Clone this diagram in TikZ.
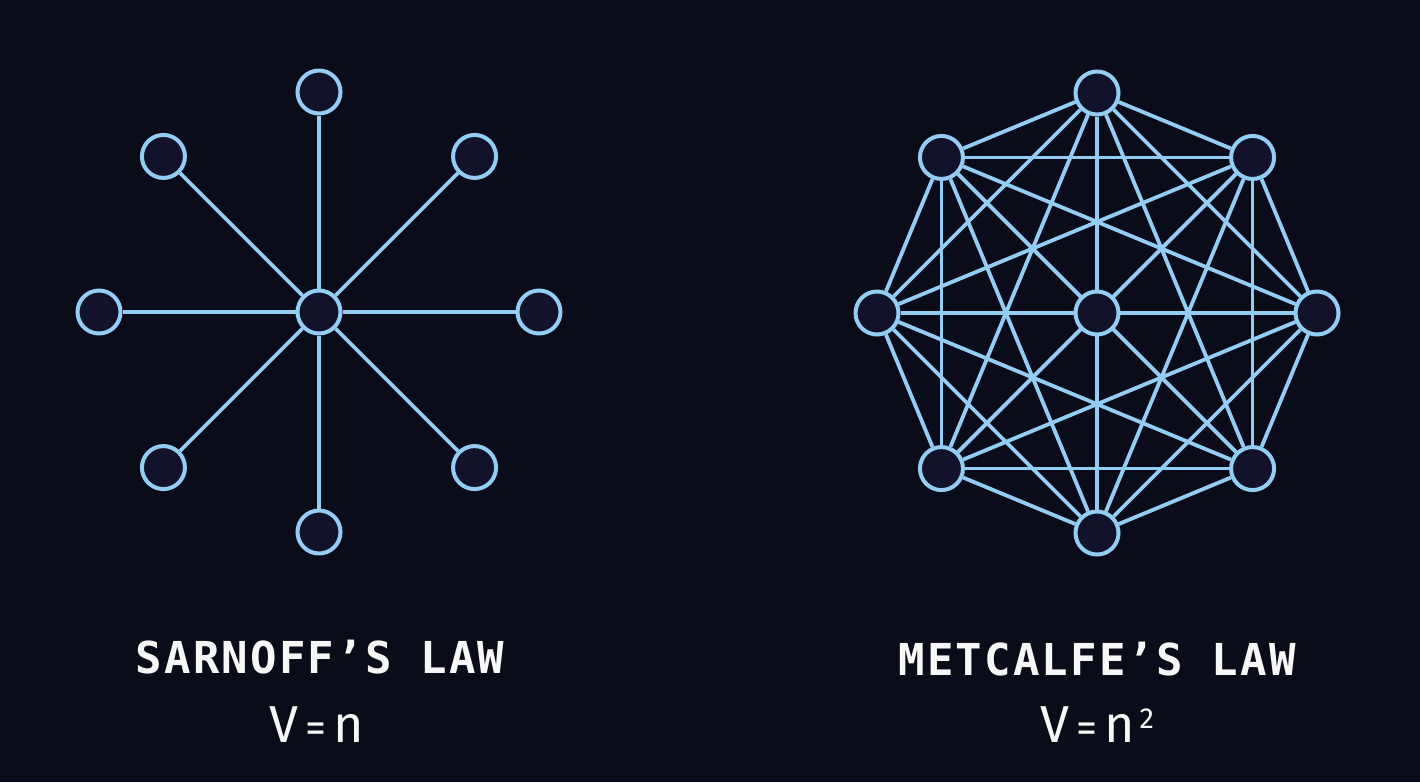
\documentclass[tikz,border=0pt]{standalone}
\usepackage{fontspec}
\setmainfont{Fira Sans}
\newfontfamily\monofnt[LetterSpace=5]{DejaVu Sans Mono}
\usetikzlibrary{backgrounds}
\definecolor{bgc}{HTML}{0A0C1A}
\definecolor{nodec}{HTML}{12122A}
\definecolor{edgec}{HTML}{93CDF3}
\definecolor{txtc}{HTML}{F7F7F7}
\newcommand{\eqsign}{\hspace{7pt}{\fontsize{42}{42}\selectfont=}\hspace{7pt}}
\begin{document}
\begin{tikzpicture}[x=1pt,y=-1pt,
  netnode/.style={circle,draw=edgec,fill=nodec,line width=4pt,minimum size=43pt,inner sep=0pt},
  link/.style={draw=edgec,line width=3.8pt},
  title/.style={text=txtc,font=\monofnt\bfseries\fontsize{44}{44}\selectfont,inner sep=0pt},
  formula/.style={text=txtc,font=\fontsize{52}{52}\selectfont,inner sep=0pt}]
\useasboundingbox (0,0) rectangle (1420,782);
\begin{scope}[on background layer]
  \fill[bgc] (0,0) rectangle (1420,782);
\end{scope}
% Sarnoff star
\node[netnode] (s0) at (319,312) {};
\begin{scope}[shift={(319,312)}]
  \foreach \a [count=\i] in {90,135,180,225,270,315,0,45}
    \node[netnode] (s\i) at (\a:220) {};
\end{scope}
\begin{scope}[on background layer]
  \foreach \i in {1,...,8} \draw[link] (s0) -- (s\i);
\end{scope}
% Metcalfe complete graph
\node[netnode] (m0) at (1097,313) {};
\begin{scope}[shift={(1097,313)}]
  \foreach \a [count=\i] in {90,135,180,225,270,315,0,45}
    \node[netnode] (m\i) at (\a:220) {};
\end{scope}
\begin{scope}[on background layer]
  \foreach \i in {1,...,8} \draw[link] (m0) -- (m\i);
  \foreach \i in {1,...,7} {
    \pgfmathtruncatemacro\k{\i+1}
    \foreach \j in {\k,...,8} \draw[link] (m\i) -- (m\j);
  }
\end{scope}
% labels
\node[title] (t1) at (320,657) {SARNOFF’S LAW};
\node[formula] (f1) at (317,725) {V\eqsign n};
\node[title] (t2) at (1097,659) {METCALFE’S LAW};
\node[formula] (f2) at (1097,725) {V\eqsign n\hspace{5pt}\raisebox{14pt}{\fontsize{29}{29}\selectfont 2}};
\end{tikzpicture}
\end{document}
